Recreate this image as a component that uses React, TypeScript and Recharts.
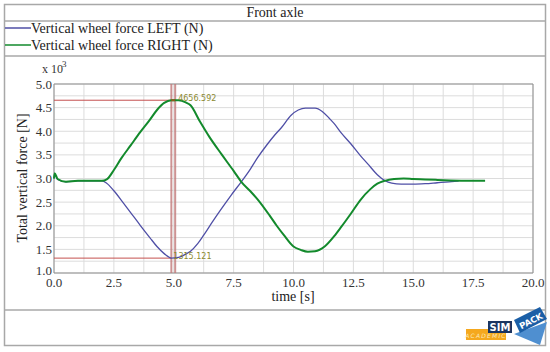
import { LineChart, Line, XAxis, YAxis, CartesianGrid, ReferenceLine, ReferenceArea, ReferenceDot } from "recharts";

const title = "Front axle";
const seriesNames = ["Vertical wheel force LEFT (N)", "Vertical wheel force RIGHT (N)"];
const seriesColors = ["#4f4fa6", "#138a2c"];

// time [s] / force [x 10^3 N]
const leftTimes = [0, 0.03, 0.15, 0.5, 1.0, 2.0, 2.2, 2.5, 2.9, 3.2, 3.6, 4.0, 4.3, 4.6, 4.9, 5.2, 5.5, 5.7, 6.0, 6.25, 6.6, 6.95, 7.4, 7.82, 8.2, 8.5, 8.9, 9.2, 9.5, 9.9, 10.2, 10.5, 10.9, 11.2, 11.5, 11.7, 12.0, 12.4, 12.8, 13.1, 13.5, 13.8, 14.1, 14.5, 15.0, 15.5, 16.0, 16.5, 16.9];
const leftForces = [3.0, 3.08, 2.98, 2.93, 2.95, 2.95, 2.9, 2.74, 2.48, 2.28, 2.01, 1.75, 1.56, 1.41, 1.315, 1.33, 1.4, 1.46, 1.62, 1.8, 2.07, 2.33, 2.65, 2.93, 3.2, 3.44, 3.72, 3.91, 4.08, 4.34, 4.45, 4.49, 4.49, 4.42, 4.27, 4.16, 3.96, 3.73, 3.48, 3.31, 3.08, 2.96, 2.9, 2.88, 2.88, 2.89, 2.91, 2.93, 2.95];

const rightTimes = [0, 0.03, 0.15, 0.5, 1.0, 2.0, 2.2, 2.5, 2.8, 3.2, 3.6, 4.0, 4.3, 4.6, 4.9, 5.2, 5.5, 5.7, 6.1, 6.5, 7.0, 7.5, 7.82, 8.2, 8.5, 9.0, 9.3, 9.6, 10.0, 10.3, 10.6, 10.9, 11.3, 11.7, 12.0, 12.4, 12.8, 13.2, 13.5, 13.8, 14.2, 14.6, 15.0, 15.5, 16.0, 17.0, 18.0];
const rightForces = [3.0, 3.11, 2.99, 2.93, 2.95, 2.95, 2.98, 3.18, 3.42, 3.7, 3.98, 4.24, 4.45, 4.6, 4.657, 4.655, 4.61, 4.55, 4.2, 3.87, 3.51, 3.16, 2.93, 2.73, 2.56, 2.22, 2.0, 1.8, 1.56, 1.49, 1.45, 1.46, 1.56, 1.78, 1.98, 2.26, 2.55, 2.77, 2.89, 2.95, 2.99, 3.0, 2.99, 2.98, 2.97, 2.955, 2.95];

const xTicks = [0, 1.25, 2.5, 3.75, 5, 6.25, 7.5, 8.75, 10, 11.25, 12.5, 13.75, 15, 16.25, 17.5, 18.75, 20];
const yTicks = [1, 1.25, 1.5, 1.75, 2, 2.25, 2.5, 2.75, 3, 3.25, 3.5, 3.75, 4, 4.25, 4.5, 4.75, 5];

// measurement cursors
const cursorTimes = [4.9, 5.06];
const cursorValues = [4656.592, 1315.121];

const leftData = leftTimes.map((t, i) => ({ t, v: leftForces[i] }));
const rightData = rightTimes.map((t, i) => ({ t, v: rightForces[i] }));

const serif = "'Liberation Serif', 'DejaVu Serif', serif";
const isMajor = (v: number, step: number) => Math.abs(v / step - Math.round(v / step)) < 1e-6;

function XTick(props: any) {
  const { x, y, payload } = props;
  if (!isMajor(payload.value, 2.5)) return <g />;
  return (
    <text x={x} y={y} dy="0.71em" textAnchor="middle" fontSize={13} fill="#333" fontFamily={serif}>
      {payload.value.toFixed(1)}
    </text>
  );
}

function YTick(props: any) {
  const { x, y, payload } = props;
  if (!isMajor(payload.value, 0.5)) return <g />;
  // bottom label sits a little higher so it clears the "0.0" of the time axis
  const lift = payload.value === 1 ? -3 : 0;
  return (
    <text x={x} y={y + lift} dy="0.35em" textAnchor="end" fontSize={13} fill="#333" fontFamily={serif}>
      {payload.value.toFixed(1)}
    </text>
  );
}

function Frame() {
  const line = "#a8a8a8";
  return (
    <svg width={550} height={352} style={{ position: "absolute", left: 0, top: 0 }}>
      <rect x={4.5} y={4.5} width={541} height={341} fill="#fff" stroke={line} strokeWidth={1.5} />
      <line x1={4} x2={546} y1={21} y2={21} stroke={line} strokeWidth={1.5} />
      <line x1={4} x2={546} y1={56} y2={56} stroke={line} strokeWidth={1.5} />
      <line x1={4} x2={546} y1={310} y2={310} stroke={line} strokeWidth={1.5} />
      <text x={275} y={17} textAnchor="middle" fontSize={14} fill="#222" fontFamily={serif}>{title}</text>
      {seriesNames.map((name, i) => (
        <g key={name}>
          <line x1={5} x2={31} y1={28 + i * 17} y2={28 + i * 17} stroke={seriesColors[i]} strokeWidth={1.5} />
          <text x={31} y={33 + i * 17} fontSize={14} fill="#222" fontFamily={serif}>{name}</text>
        </g>
      ))}
      <text x={42} y={73} fontSize={12} fill="#333" fontFamily={serif}>x 10</text>
      <text x={62} y={67} fontSize={9} fill="#333" fontFamily={serif}>3</text>
      <text x={22} y={178} transform="rotate(-90 22 178)" textAnchor="middle" dominantBaseline="central" fontSize={14} fill="#222" fontFamily={serif}>
        Total vertical force [N]
      </text>
      <text x={293} y={301} textAnchor="middle" fontSize={14} fill="#222" fontFamily={serif}>time [s]</text>
      {/* SIMPACK academic logo */}
      <rect x={466} y={329} width={40} height={11} fill="#f5a81e" />
      <text x={486} y={338} textAnchor="middle" fontSize={6} fontStyle="italic" letterSpacing={1.2} fill="#fde9b8" fontFamily="'DejaVu Sans', sans-serif">ACADEMIC</text>
      <rect x={488} y={321} width={24} height={12} fill="#1b3560" />
      <text x={500} y={331} textAnchor="middle" fontSize={10} fontWeight="bold" fill="#fff" fontFamily="'DejaVu Sans', sans-serif">SIM</text>
      <polygon points="514,334 547,322 540,345" fill="#4f8fd0" />
      <polygon points="514,320 540,307 547,319 520,333" fill="#1a5ea6" />
      <text x={531} y={324} textAnchor="middle" fontSize={8.5} fontWeight="bold" fill="#fff" transform="rotate(-27 531 321)" fontFamily="'DejaVu Sans', sans-serif">PACK</text>
    </svg>
  );
}

export default function App() {
  const cursorColor = "#c07878";
  const markColor = "#c4504f";
  const labelColor = "#8c8a30";
  return (
    <div style={{ position: "absolute", left: 0, top: 0, width: 550, height: 352, background: "#fff" }}>
      <Frame />
      <div style={{ position: "absolute", left: 0, top: 0 }}>
        <LineChart width={550} height={352} margin={{ top: 84, right: 17, bottom: 59, left: 0 }}>
          <CartesianGrid stroke="#dcdcdc" strokeWidth={1} />
          <XAxis
            dataKey="t"
            type="number"
            domain={[0, 20]}
            ticks={xTicks}
            interval={0}
            height={20}
            axisLine={false}
            tickLine={false}
            tickSize={0}
            tickMargin={5}
            tick={<XTick />}
          />
          <YAxis
            type="number"
            domain={[1, 5]}
            ticks={yTicks}
            interval={0}
            width={54}
            axisLine={false}
            tickLine={false}
            tickSize={0}
            tickMargin={2}
            tick={<YTick />}
          />
          <ReferenceArea x1={0} x2={20} y1={1} y2={5} fill="none" stroke="#8f8f8f" strokeWidth={1} />
          {cursorTimes.map((t) => (
            <ReferenceLine key={t} x={t} stroke={cursorColor} strokeOpacity={0.8} strokeWidth={2} />
          ))}
          {cursorValues.map((v) => (
            <ReferenceLine
              key={v}
              segment={[{ x: 0, y: v / 1000 }, { x: cursorTimes[0], y: v / 1000 }]}
              stroke={markColor}
              strokeWidth={1}
            />
          ))}
          <Line data={leftData} dataKey="v" type="monotone" dot={false} stroke={seriesColors[0]} strokeWidth={1.3} isAnimationActive={false} />
          <Line data={rightData} dataKey="v" type="monotone" dot={false} stroke={seriesColors[1]} strokeWidth={2} isAnimationActive={false} />
          <ReferenceLine
            segment={[{ x: cursorTimes[0], y: cursorValues[0] / 1000 }, { x: cursorTimes[1], y: cursorValues[0] / 1000 }]}
            stroke="#8a5a1a"
            strokeWidth={2}
          />
          <ReferenceDot
            x={cursorTimes[1]}
            y={cursorValues[0] / 1000}
            r={0}
            stroke="none"
            label={{ value: cursorValues[0].toFixed(3), position: "right", offset: 3, fill: labelColor, fontSize: 8, dy: -2, fontFamily: "'DejaVu Sans', sans-serif" }}
          />
          <ReferenceDot
            x={cursorTimes[0]}
            y={cursorValues[1] / 1000}
            r={0}
            stroke="none"
            label={{ value: cursorValues[1].toFixed(3), position: "right", offset: 2, fill: labelColor, fontSize: 8, dy: -2, fontFamily: "'DejaVu Sans', sans-serif" }}
          />
        </LineChart>
      </div>
    </div>
  );
}
